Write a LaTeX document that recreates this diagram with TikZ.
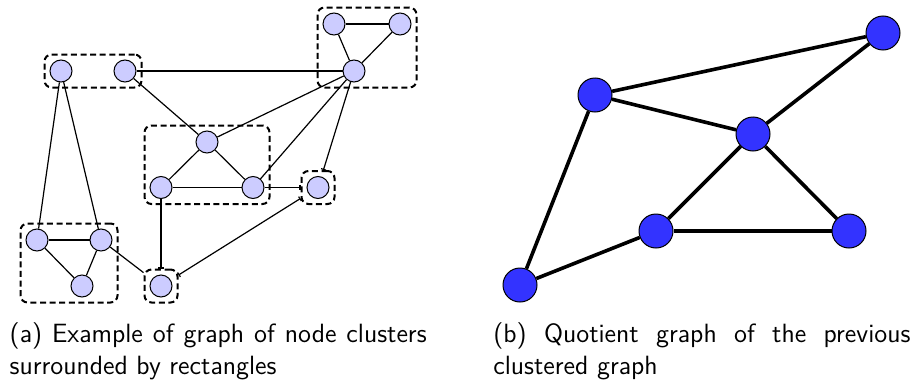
\documentclass[tikz,border=0pt]{standalone}
\usetikzlibrary{fit,arrows.meta}
\begin{document}
\begin{tikzpicture}[x=0.5pt,y=-0.5pt,
  vtx/.style={circle,draw=black,line width=0.5pt,fill=blue!20,minimum size=11pt,inner sep=0pt},
  qvtx/.style={circle,draw=black,line width=0.5pt,fill=blue!80,minimum size=17pt,inner sep=0pt},
  edge/.style={line width=0.6pt},
  bartip/.tip={Bar[width=2.6pt,line width=0.6pt]},
  baredge/.style={edge,-bartip},
  qedge/.style={line width=1.8pt},
  cluster/.style={draw,line width=1pt,dash pattern=on 3pt off 1.8pt,rounded corners=3.5pt,inner sep=2.5pt},
  caption/.style={anchor=north west,inner sep=0pt,text width=208.5pt,align=justify,
    font=\sffamily\fontsize{13.2}{16}\selectfont}
]
\useasboundingbox (0,0) rectangle (914,380);

% ---- clustered graph ----
\node[vtx] (n1) at (61,71) {};
\node[vtx] (n2) at (125,71) {};
\node[vtx] (t1) at (334,24) {};
\node[vtx] (t2) at (400,24) {};
\node[vtx] (t3) at (354,71) {};
\node[vtx] (m1) at (207,142) {};
\node[vtx] (m2) at (161,187.5) {};
\node[vtx] (m3) at (253,187.5) {};
\node[vtx] (s1) at (318,187.5) {};
\node[vtx] (b1) at (37,240) {};
\node[vtx] (b2) at (101,240) {};
\node[vtx] (b3) at (82,286) {};
\node[vtx] (s2) at (161,286) {};

% dashed cluster outlines
\node[cluster,fit=(n1)(n2)] (cA) {};
\node[cluster,fit=(t1)(t2)(t3)] (cT) {};
\node[cluster,fit=(m1)(m2)(m3)] (cM) {};
\node[cluster,fit=(b1)(b2)(b3)] (cB) {};
\node[cluster,fit=(s1)] (cS1) {};
\node[cluster,fit=(s2)] (cS2) {};

% edges
\draw[edge] (n1) -- (b1);
\draw[edge] (n1) -- (b2);
\draw[edge] (n2) -- (t3);
\draw[edge] (n2) -- (m1);
\draw[edge] (t1) -- (t2);
\draw[edge] (t1) -- (t3);
\draw[edge] (t2) -- (t3);
\draw[edge] (t3) -- (m1);
\draw[edge] (t3) -- (m3);
\draw[edge] (m1) -- (m2);
\draw[edge] (m1) -- (m3);
\draw[edge] (m2) -- (m3);
\draw[edge] (b1) -- (b2);
\draw[edge] (b1) -- (b3);
\draw[edge] (b2) -- (b3);
\draw[edge] (b2) -- (cS2);
\draw[baredge] (t3) -- (cS1);
\draw[baredge] (m3) -- (cS1);
\draw[baredge] (m2) -- (cS2);
\draw[edge,bartip-bartip] (cS2) -- (cS1);

% ---- quotient graph ----
\node[qvtx] (q1) at (883,33) {};
\node[qvtx] (q2) at (595,95) {};
\node[qvtx] (q3) at (753,134) {};
\node[qvtx] (q4) at (656,231) {};
\node[qvtx] (q5) at (849,231) {};
\node[qvtx] (q6) at (520,285) {};
\draw[qedge] (q2) -- (q1);
\draw[qedge] (q1) -- (q3);
\draw[qedge] (q2) -- (q3);
\draw[qedge] (q2) -- (q6);
\draw[qedge] (q3) -- (q4);
\draw[qedge] (q3) -- (q5);
\draw[qedge] (q4) -- (q5);
\draw[qedge] (q4) -- (q6);

% ---- captions ----
\node[caption] (capa) at (9.3,322) {(a) Example of graph of node clusters \mbox{surrounded} by rectangles};
\node[caption] (capb) at (493,322) {(b) Quotient graph of the previous \mbox{clustered} graph};
\end{tikzpicture}
\end{document}
